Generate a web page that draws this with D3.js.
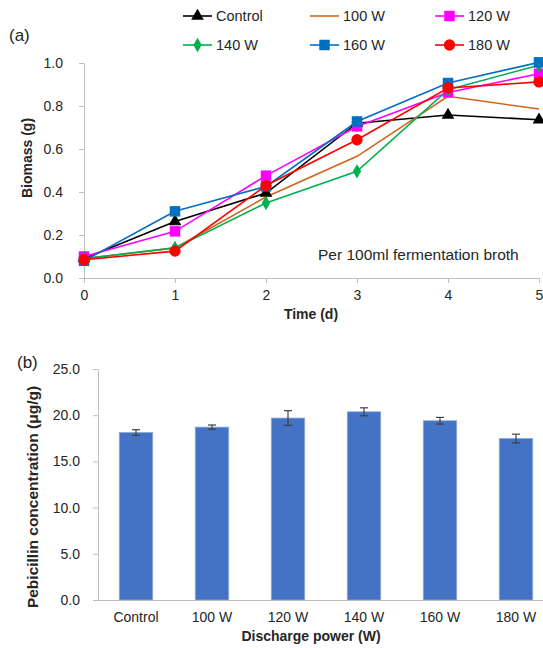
<!DOCTYPE html>
<html>
  <head>
    <style>
      body { margin: 0; background: #fff; }
      text { font-family: "Liberation Sans", Arial, sans-serif; fill: #262626; }
      .axis path, .axis line { stroke: #bfbfbf; }
      .axis text { font-size: 14px; fill: #262626; }
    </style>
    <script src="https://d3js.org/d3.v7.min.js"></script>
  </head>
  <body>
    <svg width="543" height="648"></svg>
    <script>
      // (a) biomass over time
      var days = [0, 1, 2, 3, 4, 5];
      var seriesNames = ["Control", "100 W", "120 W", "140 W", "160 W", "180 W"];
      var control = [0.09, 0.263, 0.395, 0.72, 0.758, 0.736];
      var w100 = [0.09, 0.14, 0.377, 0.566, 0.845, 0.786];
      var w120 = [0.10, 0.217, 0.476, 0.705, 0.863, 0.95];
      var w140 = [0.09, 0.14, 0.349, 0.496, 0.876, 0.99];
      var w160 = [0.08, 0.31, 0.426, 0.728, 0.907, 1.003];
      var w180 = [0.085, 0.125, 0.43, 0.643, 0.884, 0.912];
      var biomassTicks = [0, 0.2, 0.4, 0.6, 0.8, 1.0];

      // (b) pebicillin concentration
      var powers = ["Control", "100 W", "120 W", "140 W", "160 W", "180 W"];
      var conc = [18.13, 18.71, 19.69, 20.37, 19.4, 17.48];
      var concErr = [0.3, 0.23, 0.8, 0.43, 0.36, 0.47];
      var concTicks = [0, 5, 10, 15, 20, 25];

      var svg = d3.select("svg");

      var series = [
        { name: "Control", values: control, color: "#000000", marker: "triangle" },
        { name: "100 W", values: w100, color: "#d0661e", marker: null },
        { name: "120 W", values: w120, color: "#ff00ff", marker: "square" },
        { name: "140 W", values: w140, color: "#00b050", marker: "diamond" },
        { name: "160 W", values: w160, color: "#0070c0", marker: "square" },
        { name: "180 W", values: w180, color: "#ff0000", marker: "circle" }
      ];

      var symbols = {
        triangle: d3.symbol().type(d3.symbolTriangle).size(70),
        square: d3.symbol().type(d3.symbolSquare).size(110),
        diamond: d3.symbol().type(d3.symbolDiamond).size(60),
        circle: d3.symbol().type(d3.symbolCircle).size(100)
      };

      // ---------- chart (a) ----------
      var x = d3.scaleLinear().domain([0, 5]).range([84, 539]);
      var y = d3.scaleLinear().domain([0, 1]).range([278, 63]);

      svg.append("g")
        .attr("class", "axis")
        .attr("transform", "translate(0,278)")
        .call(d3.axisBottom(x).tickValues(days).tickSize(5).tickSizeOuter(0).tickPadding(7)
          .tickFormat(d3.format("d")));

      svg.append("g")
        .attr("class", "axis")
        .attr("transform", "translate(84,0)")
        .call(d3.axisLeft(y).tickValues(biomassTicks).tickSize(5).tickSizeOuter(0)
          .tickFormat(d3.format(".1f")).tickPadding(16));

      var line = d3.line()
        .x(function (d, i) { return x(days[i]); })
        .y(function (d) { return y(d); });

      series.forEach(function (s) {
        svg.append("path")
          .datum(s.values)
          .attr("fill", "none")
          .attr("stroke", s.color)
          .attr("stroke-width", 1.6)
          .attr("d", line);
      });
      series.forEach(function (s) {
        if (!s.marker) return;
        svg.selectAll(null)
          .data(s.values)
          .enter()
          .append("path")
          .attr("d", symbols[s.marker])
          .attr("fill", s.color)
          .attr("transform", function (d, i) {
            return "translate(" + x(days[i]) + "," + y(d) + ")";
          });
      });

      // legend
      var legendX = [183, 310, 435];
      var legendY = [16, 45];
      series.forEach(function (s, i) {
        var lx = legendX[i % 3], ly = legendY[Math.floor(i / 3)];
        var g = svg.append("g").attr("transform", "translate(" + lx + "," + ly + ")");
        g.append("line").attr("x1", 0).attr("x2", 29).attr("stroke", s.color).attr("stroke-width", 1.6);
        if (s.marker) {
          g.append("path").attr("d", symbols[s.marker]).attr("fill", s.color)
            .attr("transform", "translate(14.5,0)");
        }
        g.append("text").attr("x", 33).attr("y", 5).style("font-size", "14.5px").text(s.name);
      });

      svg.append("text").attr("x", 9).attr("y", 41).style("font-size", "17px").text("(a)");

      svg.append("text")
        .attr("transform", "translate(32,158) rotate(-90)")
        .attr("text-anchor", "middle")
        .style("font-size", "14px").style("font-weight", "bold")
        .text("Biomass (g)");

      svg.append("text")
        .attr("x", 311).attr("y", 319)
        .attr("text-anchor", "middle")
        .style("font-size", "14px").style("font-weight", "bold")
        .text("Time (d)");

      svg.append("text")
        .attr("x", 318).attr("y", 260)
        .style("font-size", "15.5px")
        .text("Per 100ml fermentation broth");

      // ---------- chart (b) ----------
      var xb = d3.scaleBand().domain(powers).range([98, 554]).paddingInner(0.56).paddingOuter(0.28);
      var yb = d3.scaleLinear().domain([0, 25]).range([600, 369]);

      svg.append("g")
        .attr("class", "axis")
        .attr("transform", "translate(98,0)")
        .call(d3.axisLeft(yb).tickValues(concTicks).tickSize(5).tickSizeOuter(0)
          .tickFormat(d3.format(".1f")).tickPadding(13));

      svg.selectAll(".bar")
        .data(conc)
        .enter()
        .append("rect")
        .attr("class", "bar")
        .attr("x", function (d, i) { return xb(powers[i]); })
        .attr("y", function (d) { return yb(d); })
        .attr("width", xb.bandwidth())
        .attr("height", function (d) { return 600 - yb(d); })
        .attr("fill", "#4472c4")
        .attr("stroke", "#8fa9dc")
        .attr("stroke-width", 0.8);

      var errG = svg.append("g").attr("stroke", "#404040").attr("stroke-width", 1.2);
      conc.forEach(function (d, i) {
        var cx = xb(powers[i]) + xb.bandwidth() / 2;
        errG.append("line").attr("x1", cx).attr("x2", cx)
          .attr("y1", yb(d - concErr[i])).attr("y2", yb(d + concErr[i]));
        errG.append("line").attr("x1", cx - 4).attr("x2", cx + 4)
          .attr("y1", yb(d - concErr[i])).attr("y2", yb(d - concErr[i]));
        errG.append("line").attr("x1", cx - 4).attr("x2", cx + 4)
          .attr("y1", yb(d + concErr[i])).attr("y2", yb(d + concErr[i]));
      });

      var xAxisB = svg.append("g")
        .attr("class", "axis")
        .attr("transform", "translate(0,600)")
        .call(d3.axisBottom(xb).tickSize(0).tickPadding(12));
      xAxisB.select(".domain").attr("d", "M98,0.5H543");

      svg.append("text").attr("x", 17).attr("y", 368).style("font-size", "17px").text("(b)");

      svg.append("text")
        .attr("transform", "translate(38,497) rotate(-90)")
        .attr("text-anchor", "middle")
        .style("font-size", "15.5px").style("font-weight", "bold")
        .text("Pebicillin concentration (\u03bcg/g)");

      svg.append("text")
        .attr("x", 311).attr("y", 641)
        .attr("text-anchor", "middle")
        .style("font-size", "14px").style("font-weight", "bold")
        .text("Discharge power (W)");
    </script>
  </body>
</html>
